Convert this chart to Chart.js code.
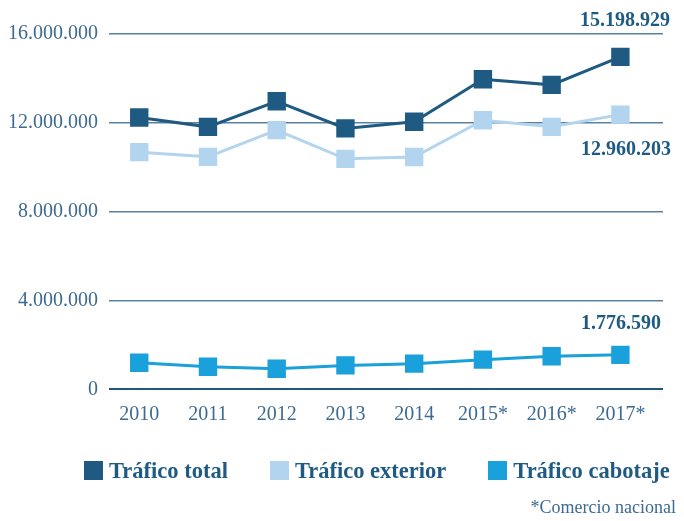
<!DOCTYPE html>
<html lang="es">
<head>
<meta charset="utf-8">
<title>Tráfico</title>
<script src="https://cdn.jsdelivr.net/npm/chart.js@4.4.1/dist/chart.umd.min.js"></script>
<style>
  html, body { margin: 0; padding: 0; background: #fff; }
  #wrap { position: relative; width: 684px; height: 521px; }
  #legend { position: absolute; left: 84px; top: 461px; height: 19px; display: flex; align-items: center; gap: 42px;
            font: bold 22.5px "Liberation Serif", serif; color: #1e5b84; line-height: 19px; }
  #legend .it { display: flex; align-items: center; white-space: nowrap; }
  #legend .box { width: 19px; height: 19px; margin-right: 6px; }
</style>
</head>
<body>
<div id="wrap">
  <canvas id="c"></canvas>
  <div id="legend"></div>
</div>
<script>
// years on the x axis
var years = ['2010', '2011', '2012', '2013', '2014', '2015*', '2016*', '2017*'];
// values
var total    = [12240000, 11820000, 12970000, 11750000, 12050000, 13960000, 13710000, 14970000];
var exterior = [10680000, 10470000, 11670000, 10380000, 10460000, 12120000, 11820000, 12370000];
var cabotaje = [1200000, 1020000, 930000, 1080000, 1160000, 1340000, 1490000, 1555000];
var yTicks = [0, 4000000, 8000000, 12000000, 16000000];
var seriesNames = ['Tráfico total', 'Tráfico exterior', 'Tráfico cabotaje'];
var lastLabels = ['15.198.929', '12.960.203', '1.776.590'];

var colors = ['#1f5a82', '#b3d4ef', '#1aa0da'];
var tickColor = '#3d6a90';
var serif = '"Liberation Serif", serif';

function fmt(n) { return String(n).replace(/\B(?=(\d{3})+(?!\d))/g, '.'); }
function pts(arr) { return arr.map(function (v, i) { return { x: i, y: v }; }); }

var series = [total, exterior, cabotaje];
var datasets = series.map(function (s, k) {
  return {
    label: seriesNames[k],
    data: pts(s),
    borderColor: colors[k],
    backgroundColor: colors[k],
    borderWidth: 3,
    tension: 0,
    pointStyle: 'rect',
    pointRadius: 13,
    pointBorderWidth: 0,
    pointHoverRadius: 13
  };
});

// value labels beside the last points (offsets in px)
var labelPos = [{ dx: 7, dy: -36 }, { dx: 8, dy: 35 }, { dx: -2, dy: -31 }];
var endLabels = {
  id: 'endLabels',
  afterDatasetsDraw: function (chart) {
    var ctx = chart.ctx, ys = chart.scales.y, area = chart.chartArea;
    ctx.save();
    ctx.font = 'bold 20px ' + serif;
    ctx.fillStyle = '#1e5b84';
    ctx.textAlign = 'right';
    ctx.textBaseline = 'middle';
    series.forEach(function (s, k) {
      var y = ys.getPixelForValue(s[s.length - 1]) + labelPos[k].dy;
      ctx.fillText(lastLabels[k], area.right + labelPos[k].dx, y);
    });
    ctx.restore();
  }
};

new Chart(document.getElementById('c'), {
  type: 'line',
  data: { datasets: datasets },
  plugins: [endLabels],
  options: {
    responsive: true,
    maintainAspectRatio: false,
    animation: false,
    layout: { padding: { top: 34, right: 8, bottom: 0, left: 0 } },
    plugins: {
      legend: { display: false },
      tooltip: { enabled: false },
      subtitle: {
        display: true,
        text: '*Comercio nacional',
        position: 'bottom',
        align: 'end',
        color: tickColor,
        font: { family: serif, size: 18, weight: 'normal' },
        padding: { top: 0, bottom: 2 }
      }
    },
    scales: {
      x: {
        type: 'linear',
        min: -0.44,
        max: 7.62,
        afterBuildTicks: function (s) { s.ticks = years.map(function (_, i) { return { value: i }; }); },
        afterFit: function (s) { s.height = 108; s.paddingRight = 21; },
        grid: { display: false },
        border: { display: false },
        ticks: {
          padding: 5,
          color: tickColor,
          font: { family: serif, size: 20 },
          callback: function (v) { return years[v]; }
        }
      },
      y: {
        min: 0,
        max: 16000000,
        afterBuildTicks: function (s) { s.ticks = yTicks.map(function (v) { return { value: v }; }); },
        afterFit: function (s) { s.width = 109; },
        border: { display: false },
        grid: {
          drawTicks: false,
          color: function (c) { return c.tick && c.tick.value === 0 ? '#24557a' : '#5a81a0'; },
          lineWidth: function (c) { return c.tick && c.tick.value === 0 ? 2 : 1.5; }
        },
        ticks: {
          padding: 11,
          color: tickColor,
          font: { family: serif, size: 20 },
          callback: function (v) { return fmt(v); }
        }
      }
    }
  }
});

// legend
var lg = document.getElementById('legend');
seriesNames.forEach(function (n, k) {
  var it = document.createElement('div');
  it.className = 'it';
  var b = document.createElement('span');
  b.className = 'box';
  b.style.background = colors[k];
  it.appendChild(b);
  it.appendChild(document.createTextNode(n));
  lg.appendChild(it);
});
</script>
</body>
</html>
